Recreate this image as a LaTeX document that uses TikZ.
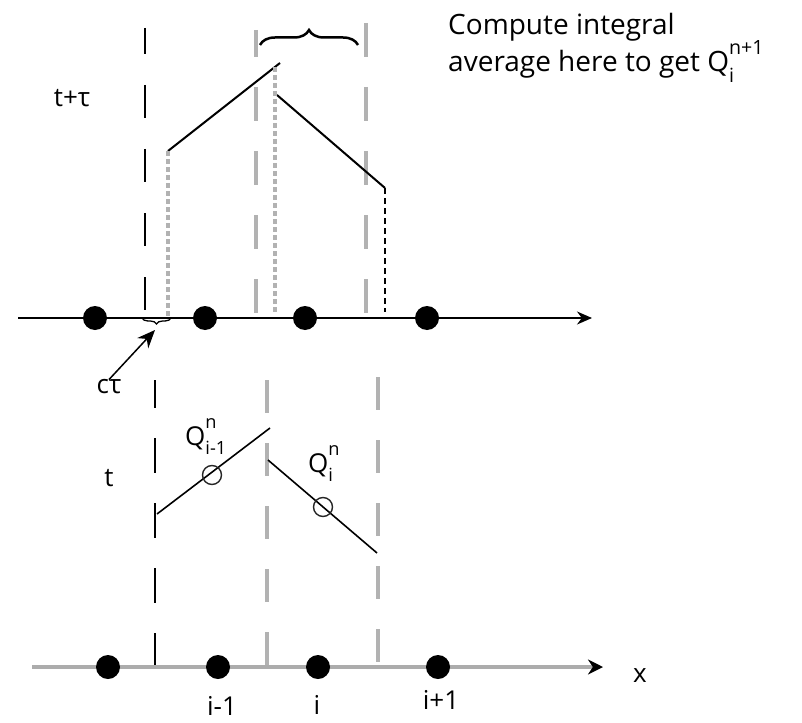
\documentclass[tikz,border=0pt]{standalone}
\usepackage{fontspec}
\setmainfont{Open Sans}
\usetikzlibrary{arrows.meta,decorations.pathreplacing}

\newcommand{\Qlab}[2]{Q\rlap{\raisebox{-0.38em}{\scalebox{0.7}{#1}}}\raisebox{0.62em}{\scalebox{0.7}{#2}}}

\begin{document}
\begin{tikzpicture}[x=1pt,y=-1pt]
\tikzstyle{gridblack} = [black,line width=1.6pt,dash pattern=on 33pt off 31pt] %cellules
\tikzstyle{gridgray} = [gray!60,line width=3.5pt,dash pattern=on 34pt off 30pt]
\tikzstyle{finegray} = [gray!60,line width=4pt,dash pattern=on 5pt off 3pt]
\tikzstyle{fineblack} = [black,line width=1.5pt,dash pattern=on 6pt off 4pt]
\tikzstyle{point} = [circle,fill=black,inner sep=0pt,minimum width=23pt,minimum height=24pt]
\tikzstyle{lab} = [font=\fontsize{26}{30}\selectfont,inner sep=0pt]
\useasboundingbox (0,0) rectangle (802,722);

%axe du haut (t+tau)
\draw[line width=1.6pt,-{Stealth[length=15pt,width=13pt]}] (18,318) -- (592,318);
\node[point] (p1) at (95,318) {};
\node[point] (p2) at (205,318) {};
\node[point] (p3) at (305,318) {};
\node[point] (p4) at (427,318) {};

%axe du bas (t)
\draw[gray!65,line width=4pt,-{Stealth[length=15pt,width=15pt,black]}] (32,667) -- (603,667);
\node[point] (q1) at (108,667) {};
\node[point] (q2) at (218,667) {};
\node[point] (q3) at (318,667) {};
\node[point] (q4) at (438,667) {};

%bords des cellules
\draw[gridblack,dash phase=7pt] (145,28) -- (145,310);
\draw[gridgray,dash phase=7pt] (256,30) -- (256,313);
\draw[gridgray] (366,23) -- (366,313);
\draw[gridblack,dash pattern=on 35pt off 30pt,dash phase=7pt] (155,380) -- (155,665);
\draw[gridgray,dash pattern=on 33pt off 30pt] (267,380) -- (267,665);
\draw[gridgray,dash pattern=on 33pt off 30pt] (378,377) -- (378,665);

%solution deplacee
\coordinate (a1) at (168,151);
\coordinate (a2) at (280,63);
\coordinate (b1) at (277,95);
\coordinate (b2) at (385,188);
\draw[line width=2pt] (a1) -- (a2);
\draw[line width=2pt] (b1) -- (b2);
\draw[finegray] (a1) -- (168,317);
\draw[finegray] (275,67) -- (275,313);
\draw[fineblack] (b2) -- (385,312);

%solution au temps t
\coordinate (c1) at (157,514);
\coordinate (c2) at (270,428);
\coordinate (d1) at (268,460);
\coordinate (d2) at (377,553);
\draw[line width=1.6pt] (c1) -- (c2);
\draw[line width=1.6pt] (d1) -- (d2);
\draw[gray!30!black,line width=1.4pt] (212,475) circle (9.5);
\draw[gray!30!black,line width=1.4pt] (323,507) circle (9.5);
\node[lab,anchor=base west] (qa) at (185,445) {\Qlab{i-1}{n}};
\node[lab,anchor=base west] (qb) at (308,472) {\Qlab{i}{n}};

%accolades
\draw[line width=2.5pt,decorate,decoration={brace,amplitude=15pt}] (260,45) -- (358,45);
\draw[line width=1.3pt,decorate,decoration={brace,mirror,amplitude=6pt}] (142,318) -- (171,318);
\coordinate (gap) at (155,330);

%textes
\node[lab] (ttau) at (72,98) {t+τ};
\node[lab] (tt) at (109,478) {t};
\node[lab] (ct) at (109,387) {cτ};
\node[lab] (im) at (222,706) {i-1};
\node[lab] (ii) at (317,705) {i};
\node[lab] (ip) at (441,700) {i+1};
\node[lab] (xx) at (640,676) {x};
\node[lab,font=\fontsize{28}{34}\selectfont,anchor=base west] (comp1) at (448,35) {Compute integral};
\node[lab,font=\fontsize{28}{34}\selectfont,anchor=base west] (comp2) at (448,72) {average here to get \Qlab{i}{n+1}};

\draw[line width=1.5pt,-{Stealth[length=18pt,width=15pt]}] (ct.north) -- (gap);
\end{tikzpicture}
\end{document}
